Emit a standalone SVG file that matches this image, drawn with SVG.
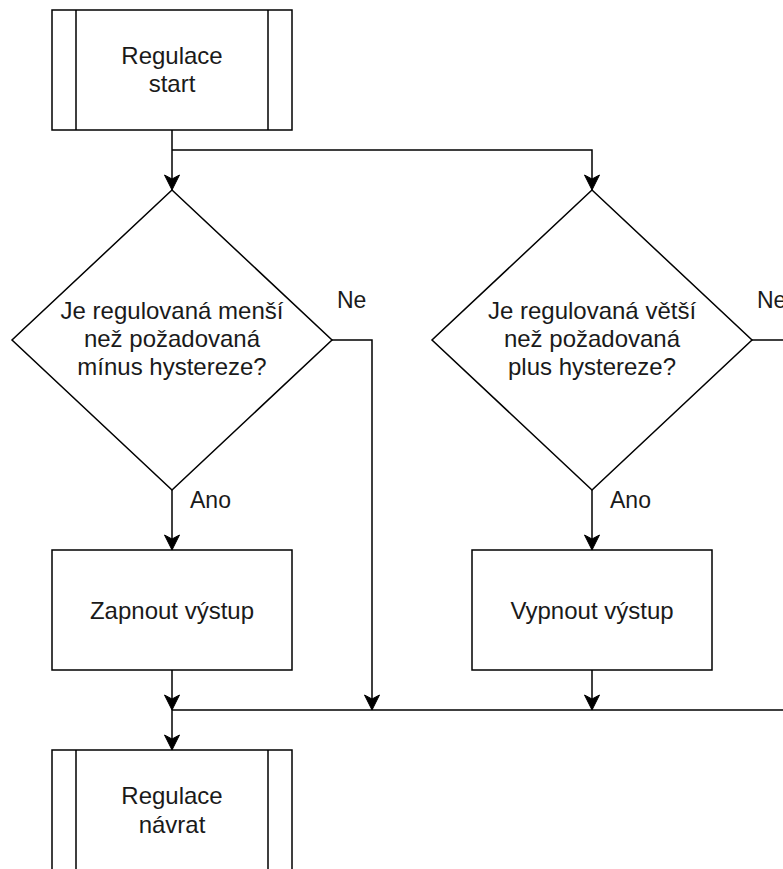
<svg xmlns="http://www.w3.org/2000/svg" width="783" height="869" viewBox="0 0 783 869">
  <style>
    .shape { fill: #ffffff; stroke: #000000; stroke-width: 1.5; }
    .bar { fill: none; stroke: #000000; stroke-width: 1.5; }
    .edge { fill: none; stroke: #000000; stroke-width: 1.5; }
    .label { font-family: "Liberation Sans", Arial, Helvetica, sans-serif; font-size: 24px; fill: #1a1a1a; text-anchor: middle; }
    .tag { font-family: "Liberation Sans", Arial, Helvetica, sans-serif; font-size: 23px; fill: #1a1a1a; }
  </style>
  <defs>
    <marker id="arrow" markerUnits="userSpaceOnUse" markerWidth="18" markerHeight="18" viewBox="-16 -9 18 18" refX="0" refY="0" orient="auto">
      <path d="M0,0 L-15,-7.5 L-11,0 L-15,7.5 Z" fill="#000000" stroke="#000000" stroke-width="1"/>
    </marker>
  </defs>
  <rect width="783" height="869" fill="#ffffff"/>

  <g id="connectors">
    <!-- start to left decision -->
    <path class="edge" d="M172,130 L172,190" marker-end="url(#arrow)"/>
    <!-- start to right decision -->
    <path class="edge" d="M172,150 L592,150 L592,190" marker-end="url(#arrow)"/>
    <!-- left decision: Ano -->
    <path class="edge" d="M172,490 L172,550" marker-end="url(#arrow)"/>
    <!-- left decision: Ne -->
    <path class="edge" d="M332,340 L372,340 L372,710" marker-end="url(#arrow)"/>
    <!-- right decision: Ano -->
    <path class="edge" d="M592,490 L592,550" marker-end="url(#arrow)"/>
    <!-- right decision: Ne -->
    <path class="edge" d="M752,340 L790,340"/>
    <!-- outputs to join line -->
    <path class="edge" d="M172,670 L172,710" marker-end="url(#arrow)"/>
    <path class="edge" d="M592,670 L592,710" marker-end="url(#arrow)"/>
    <path class="edge" d="M790,710 L172,710"/>
    <!-- join line to return -->
    <path class="edge" d="M172,710 L172,750" marker-end="url(#arrow)"/>
    <!-- branch labels -->
    <text class="tag" x="337" y="308">Ne</text>
    <text class="tag" x="757" y="308">Ne</text>
    <text class="tag" x="190" y="508">Ano</text>
    <text class="tag" x="610" y="508">Ano</text>
  </g>

  <g id="regulace-start">
    <rect class="shape" x="52" y="10" width="240" height="120"/>
    <path class="bar" d="M76,10 V130 M268,10 V130"/>
    <text class="label" x="172" y="64">Regulace</text>
    <text class="label" x="172" y="92">start</text>
  </g>

  <g id="decision-mensi">
    <path class="shape" d="M172,190 L332,340 L172,490 L12,340 Z"/>
    <text class="label" x="172" y="319">Je regulovaná menší</text>
    <text class="label" x="172" y="347">než požadovaná</text>
    <text class="label" x="172" y="375">mínus hystereze?</text>
  </g>

  <g id="decision-vetsi">
    <path class="shape" d="M592,190 L752,340 L592,490 L432,340 Z"/>
    <text class="label" x="592" y="319">Je regulovaná větší</text>
    <text class="label" x="592" y="347">než požadovaná</text>
    <text class="label" x="592" y="375">plus hystereze?</text>
  </g>

  <g id="zapnout">
    <rect class="shape" x="52" y="550" width="240" height="120"/>
    <text class="label" x="172" y="619">Zapnout výstup</text>
  </g>

  <g id="vypnout">
    <rect class="shape" x="472" y="550" width="240" height="120"/>
    <text class="label" x="592" y="619">Vypnout výstup</text>
  </g>

  <g id="regulace-navrat">
    <rect class="shape" x="52" y="750" width="240" height="120"/>
    <path class="bar" d="M76,750 V870 M268,750 V870"/>
    <text class="label" x="172" y="804">Regulace</text>
    <text class="label" x="172" y="833">návrat</text>
  </g>
</svg>
